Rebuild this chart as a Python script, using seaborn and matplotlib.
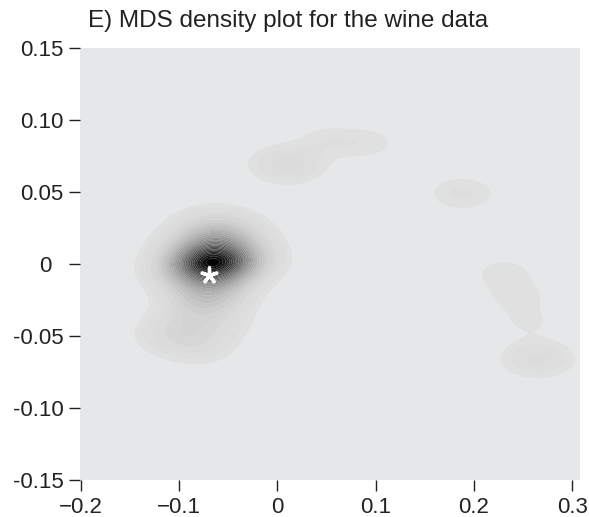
import numpy as np
import pandas as pd
import seaborn as sns
import matplotlib.pyplot as plt
from matplotlib.colors import LinearSegmentedColormap

# MDS coordinates (approximate) and their weights
pt_x = [-0.066, -0.064, -0.069, -0.040, -0.092, -0.063, -0.073, -0.045, -0.088,
        -0.094, -0.082, -0.106, -0.066,
        0.010, 0.050, 0.092, 0.188, 0.230, 0.244, 0.255, 0.265]
pt_y = [0.001, 0.013, -0.011, 0.004, -0.004, 0.025, -0.025, 0.018, 0.012,
        -0.042, -0.056, -0.050, -0.041,
        0.069, 0.085, 0.084, 0.049, -0.006, -0.022, -0.040, -0.066]
pt_w = [5.5, 1.4, 1.4, 0.6, 0.5, 0.45, 0.7, 0.3, 0.15,
        0.20, 0.18, 0.15, 0.15,
        0.22, 0.075, 0.07, 0.105, 0.07, 0.07, 0.055, 0.19]

star_x = [-0.0693]
star_y = [-0.0076]

x_ticks = [-0.2, -0.1, 0.0, 0.1, 0.2, 0.3]
x_labels = ["\u22120.2", "\u22120.1", "0", "0.1", "0.2", "0.3"]
y_ticks = [0.15, 0.10, 0.05, 0.0, -0.05, -0.10, -0.15]
y_labels = ["0.15", "0.10", "0.05", "0 \u2009", "-0.05", "-0.10", "-0.15"]
title = "E) MDS density plot for the wine data"

sns.set_theme(style="white")
plt.rcParams['font.family'] = ['Liberation Sans', 'DejaVu Sans']
plt.rcParams['axes.unicode_minus'] = False

fig = plt.figure(figsize=(5.89, 5.17), dpi=100)
ax = fig.add_axes([0.1358, 0.0716, 0.849, 0.8356])
ax.set_facecolor('#e6e7e9')

df = pd.DataFrame({"x": pt_x, "y": pt_y, "w": pt_w})

# kernel width chosen so that the x standard deviation of a kernel is ~0.023
cov = np.cov(np.vstack([df["x"], df["y"]]), aweights=df["w"])
bw = 0.023 / np.sqrt(cov[0, 0])

cmap = LinearSegmentedColormap.from_list("wine_gray", ["#dfe0df", "#000000"])
sns.kdeplot(data=df, x="x", y="y", weights="w", fill=True,
            levels=list(np.linspace(0.03, 1.0, 30)), cmap=cmap,
            bw_method=bw, gridsize=300, cut=8, ax=ax, antialiased=True)

sns.scatterplot(x=star_x, y=star_y, marker=(5, 2, 0), color="white",
                s=120, linewidth=2.4, ax=ax, zorder=5)

ax.set_xlim(-0.201, 0.308)
ax.set_ylim(-0.15, 0.15)
ax.set_xticks(x_ticks)
ax.set_xticklabels(x_labels)
ax.set_yticks(y_ticks)
ax.set_yticklabels(y_labels)
ax.set_xlabel("")
ax.set_ylabel("")
for s in ax.spines.values():
    s.set_visible(False)
ax.tick_params(axis="both", direction="out", length=8, width=1.0,
               color="#222222", labelcolor="#222222", labelsize=16, pad=4,
               bottom=True, left=True)
fig.text(88 / 589, 1 - 21 / 517, title, fontsize=17.5, color="#222222",
         ha="left", va="center")

fig.savefig("out.png", dpi=100)
